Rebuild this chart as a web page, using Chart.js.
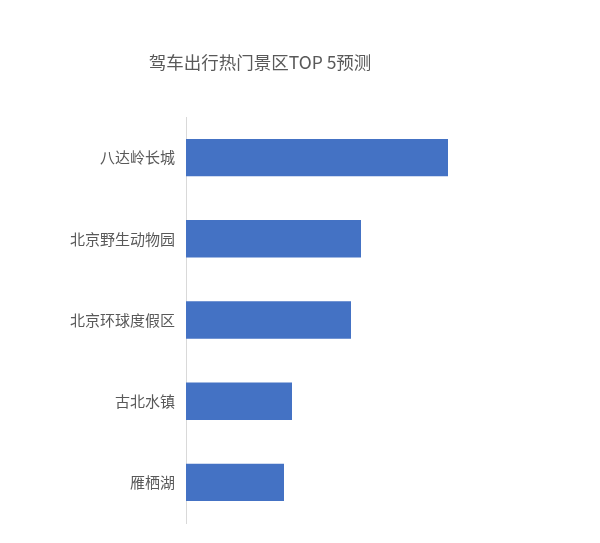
<!DOCTYPE html>
<html>
<head>
<meta charset="utf-8">
<script src="https://cdn.jsdelivr.net/npm/chart.js@4"></script>
<style>
  html, body { margin: 0; padding: 0; background: #fff; }
  #wrap { width: 600px; height: 543px; }
</style>
</head>
<body>
<div id="wrap"><canvas id="topChart"></canvas></div>
<script>
const spots = ["八达岭长城", "北京野生动物园", "北京环球度假区", "古北水镇", "雁栖湖"];
const heat = [262, 175, 165, 106, 98];
const heatMax = 334;

const font = "'Noto Sans CJK SC', 'Noto Sans', sans-serif";
const grey = "#595959";

let topChart;

document.addEventListener("DOMContentLoaded", () => {
  const ctx = document.getElementById("topChart");
  topChart = new Chart(ctx, {
    type: "bar",
    data: {
      labels: spots,
      datasets: [{ data: heat, backgroundColor: "#4472C4", barPercentage: 0.46, categoryPercentage: 1 }],
    },
    options: {
      indexAxis: "y",
      responsive: true,
      maintainAspectRatio: false,
      animation: false,
      layout: { padding: { left: 0, right: 80, top: 0, bottom: 18 } },
      plugins: {
        legend: { display: false },
        tooltip: { enabled: false },
        title: {
          display: true,
          text: "驾车出行热门景区TOP 5预测",
          color: grey,
          font: { family: font, size: 17.5, weight: "normal" },
          padding: { top: 52, bottom: 44 },
        },
      },
      scales: {
        x: { display: false, min: 0, max: heatMax },
        y: {
          grid: { display: false, drawTicks: false },
          border: { display: true, color: "#d9d9d9", width: 1 },
          ticks: { color: grey, font: { family: font, size: 15 }, padding: 11 },
          afterFit: (scale) => { scale.width = 186; },
        },
      },
    },
  });
});
</script>
</body>
</html>
